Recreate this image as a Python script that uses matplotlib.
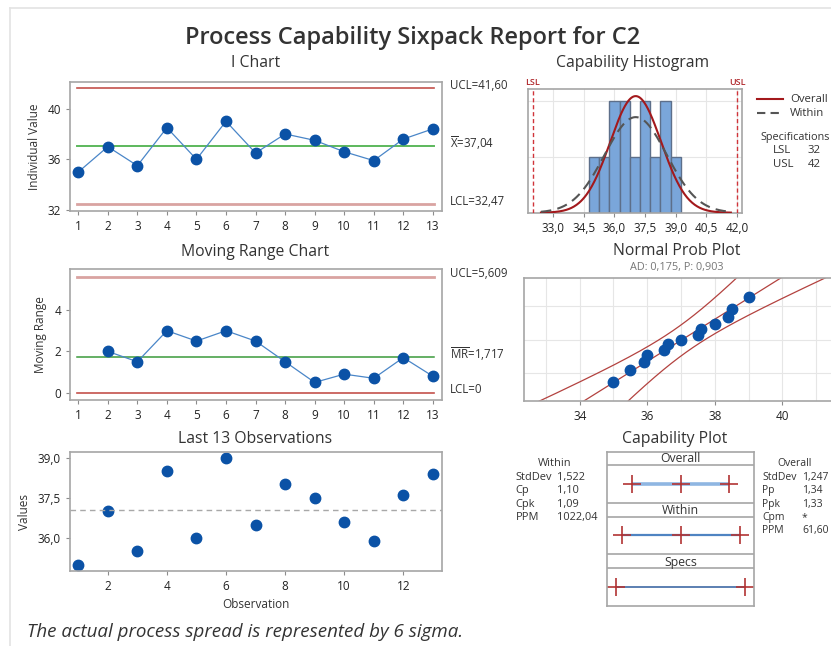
import math
import numpy as np
import matplotlib
matplotlib.use("Agg")
import matplotlib.pyplot as plt
from matplotlib.lines import Line2D
from matplotlib.ticker import FuncFormatter
import matplotlib.transforms as mtransforms

# ---------------- data ----------------
observations = list(range(1, 14))
values = [35.0, 37.0, 35.5, 38.5, 36.0, 39.0, 36.5, 38.0, 37.5, 36.6, 35.9, 37.6, 38.4]
LSL, USL = 32, 42
hist_edges = [34.75, 35.25, 35.75, 36.25, 36.75, 37.25, 37.75, 38.25, 38.75, 39.25]
hist_xticks = [33.0, 34.5, 36.0, 37.5, 39.0, 40.5, 42.0]
prob_xticks = [34, 36, 38, 40]
within_labels = ["StdDev", "Cp", "Cpk", "PPM"]
within_values = ["1,522", "1,10", "1,09", "1022,04"]
overall_labels = ["StdDev", "Pp", "Ppk", "Cpm", "PPM"]
overall_values = ["1,247", "1,34", "1,33", "*", "61,60"]
ad_text = "AD: 0,175, P: 0,903"

# ---------------- derived ----------------
vals = np.array(values)
n = len(vals)
mean = vals.mean()
mr = np.abs(np.diff(vals))
mrbar = mr.mean()
d2, d3 = 1.128, 0.8525
sig_w = mrbar / d2
sig_o = vals.std(ddof=1)
ucl_i, lcl_i = mean + 3 * sig_w, mean - 3 * sig_w
ucl_mr = (1 + 3 * d3 / d2) * mrbar


def comma(v, d):
    return f"{v:.{d}f}".replace(".", ",")


def norm_ppf(p):
    lo, hi = -10.0, 10.0
    for _ in range(80):
        mid = 0.5 * (lo + hi)
        if 0.5 * (1 + math.erf(mid / math.sqrt(2))) < p:
            lo = mid
        else:
            hi = mid
    return 0.5 * (lo + hi)


def npdf(x, m, s):
    return np.exp(-0.5 * ((x - m) / s) ** 2) / (s * math.sqrt(2 * math.pi))


# ---------------- style ----------------
FONT = "Open Sans"
plt.rcParams["font.family"] = [FONT, "DejaVu Sans"]
plt.rcParams["mathtext.fontset"] = "custom"
plt.rcParams["mathtext.rm"] = FONT
plt.rcParams["mathtext.it"] = FONT + ":italic"
plt.rcParams["mathtext.bf"] = FONT + ":bold"
plt.rcParams["axes.edgecolor"] = "#a6a6a6"
plt.rcParams["axes.linewidth"] = 1.2
plt.rcParams["xtick.color"] = "#8c8c8c"
plt.rcParams["ytick.color"] = "#8c8c8c"
plt.rcParams["xtick.labelcolor"] = "#222222"
plt.rcParams["ytick.labelcolor"] = "#222222"
plt.rcParams["xtick.labelsize"] = 8.5
plt.rcParams["ytick.labelsize"] = 8.5
plt.rcParams["xtick.major.size"] = 3
plt.rcParams["ytick.major.size"] = 3

TXT = "#333333"
BLUE = "#0b52a6"
LINEBLUE = "#4a86c8"
RED = "#c3524c"
PINK = "#d9a3a1"
GREEN = "#5cb85c"
DGREEN = "#3a9a3a"

W, H = 831, 646
fig = plt.figure(figsize=(W / 100, H / 100), dpi=100)


def rect(l, t, r, b):
    return [l / W, 1 - b / H, (r - l) / W, (b - t) / H]


def ftext(x, y, s, **kw):
    kw.setdefault("ha", "center")
    kw.setdefault("va", "center")
    kw.setdefault("color", TXT)
    return fig.text(x / W, 1 - y / H, s, **kw)


# page frame
fig.add_artist(Line2D([10 / W, 1], [1 - 8 / H, 1 - 8 / H], color="#e3e3e3", lw=1.2))
fig.add_artist(Line2D([10 / W, 10 / W], [0, 1 - 8 / H], color="#e3e3e3", lw=1.2))

ftext(413, 38, "Process Capability Sixpack Report for C2", fontsize=17, fontweight="semibold")
ftext(27, 632, "The actual process spread is represented by 6 sigma.", ha="left",
      fontsize=13.5, style="italic")

TSZ = 11.3
LSZ = 8.5
SSZ = 7.9
OSZ = 7.5

# ---------------- I chart ----------------
ax1 = fig.add_axes(rect(70, 81.7, 441.7, 211))
ax1.plot(observations, values, color=LINEBLUE, lw=0.9, marker="o", ms=7.5,
         mfc=BLUE, mec=BLUE, zorder=3)
ax1.axhline(ucl_i, xmin=0.02, xmax=0.98, color=RED, lw=1.2)
ax1.axhline(lcl_i, xmin=0.02, xmax=0.98, color=PINK, lw=2)
ax1.axhline(mean, xmin=0.02, xmax=0.98, color=GREEN, lw=1.4)
ax1.set_xlim(0.72, 13.3)
ax1.set_ylim(31.93, 42.12)
ax1.set_xticks(observations)
ax1.set_yticks([32, 36, 40])
ax1.set_ylabel("Individual Value", fontsize=LSZ, color=TXT, labelpad=5)
ftext(255.5, 63, "I Chart", fontsize=TSZ)
tr1 = mtransforms.blended_transform_factory(ax1.transAxes, ax1.transData)
for yv, s in [(ucl_i, "UCL=" + comma(ucl_i, 2)),
              (mean, r"$\overline{\mathrm{X}}$=" + comma(mean, 2)),
              (lcl_i, "LCL=" + comma(lcl_i, 2))]:
    ax1.annotate(s, xy=(1, yv), xycoords=tr1, xytext=(6, 2), textcoords="offset points",
                 ha="left", va="center", fontsize=8.3, color=TXT, annotation_clip=False)

# ---------------- Moving range ----------------
ax2 = fig.add_axes(rect(70, 269.3, 441.7, 400))
ax2.plot(observations[1:], mr, color=LINEBLUE, lw=0.9, marker="o", ms=7.5,
         mfc=BLUE, mec=BLUE, zorder=3)
ax2.axhline(ucl_mr, xmin=0.02, xmax=0.98, color=PINK, lw=2)
ax2.axhline(0, xmin=0.02, xmax=0.98, color=RED, lw=1.2)
ax2.axhline(mrbar, xmin=0.02, xmax=0.98, color=DGREEN, lw=1.1)
ax2.set_xlim(0.72, 13.3)
ax2.set_ylim(-0.35, 5.97)
ax2.set_xticks(observations)
ax2.set_yticks([0, 2, 4])
ax2.set_ylabel("Moving Range", fontsize=LSZ, color=TXT, labelpad=5)
ftext(255.5, 251.7, "Moving Range Chart", fontsize=TSZ)
tr2 = mtransforms.blended_transform_factory(ax2.transAxes, ax2.transData)
for yv, s in [(ucl_mr, "UCL=" + comma(ucl_mr, 3)),
              (mrbar, r"$\overline{\mathrm{MR}}$=" + comma(mrbar, 3)),
              (0, "LCL=0")]:
    ax2.annotate(s, xy=(1, yv), xycoords=tr2, xytext=(6, 2), textcoords="offset points",
                 ha="left", va="center", fontsize=8.3, color=TXT, annotation_clip=False)

# ---------------- Last 13 observations ----------------
ax3 = fig.add_axes(rect(70, 452.3, 441.7, 570.7))
ax3.plot(observations, values, ls="none", marker="o", ms=7.5, mfc=BLUE, mec=BLUE)
ax3.axhline(mean, color="#a8a8a8", lw=1, ls=(0, (4, 3)))
ax3.set_xlim(0.72, 13.3)
ax3.set_ylim(34.78, 39.2)
ax3.set_xticks([2, 4, 6, 8, 10, 12])
ax3.set_yticks([36.0, 37.5, 39.0])
ax3.yaxis.set_major_formatter(FuncFormatter(lambda v, p: comma(v, 1)))
ax3.set_ylabel("Values", fontsize=LSZ, color=TXT, labelpad=5)
ax3.set_xlabel("Observation", fontsize=LSZ, color=TXT, labelpad=4)
ftext(255.5, 439.3, "Last 13 Observations", fontsize=TSZ)

# ---------------- Capability histogram ----------------
ax4 = fig.add_axes(rect(527.7, 89.3, 741.7, 212.7))
ax4.hist(values, bins=hist_edges, color="#7aa6da", edgecolor="#5d6f8a", lw=1, zorder=2)
xs = np.linspace(32.4, 41.7, 300)
bw = hist_edges[1] - hist_edges[0]
ax4.plot(xs, npdf(xs, mean, sig_o) * n * bw, color="#a3191c", lw=1.5, zorder=3)
ax4.plot(xs, npdf(xs, mean, sig_w) * n * bw, color="#555555", lw=1.5, ls=(0, (5, 3)), zorder=3)
ax4.axvline(LSL, color="#d0343a", lw=1, ls=(0, (3, 2)), zorder=3)
ax4.axvline(USL, color="#d0343a", lw=1, ls=(0, (3, 2)), zorder=3)
ax4.set_xlim(31.75, 42.23)
ax4.set_ylim(0, 2.2)
ax4.set_xticks(hist_xticks)
ax4.xaxis.set_major_formatter(FuncFormatter(lambda v, p: comma(v, 1)))
ax4.set_yticks([1, 2])
ax4.tick_params(axis="y", length=0, labelleft=False)
ax4.grid(True, color="#e6e6e6", lw=0.8, zorder=0)
ax4.set_axisbelow(True)
ftext(633, 63, "Capability Histogram", fontsize=TSZ)
tr4 = mtransforms.blended_transform_factory(ax4.transData, ax4.transAxes)
ax4.text(LSL, 1.02, "LSL", transform=tr4, ha="center", va="bottom", fontsize=6.5,
         color="#b0282c", fontweight="semibold")
ax4.text(USL, 1.02, "USL", transform=tr4, ha="center", va="bottom", fontsize=6.5,
         color="#b0282c", fontweight="semibold")

# legend / specs
fig.add_artist(Line2D([757 / W, 783 / W], [1 - 99.3 / H] * 2, color="#a3191c", lw=1.5))
fig.add_artist(Line2D([757 / W, 783 / W], [1 - 113.3 / H] * 2, color="#555555", lw=1.5,
                      ls=(0, (4, 2.5))))
ftext(790, 99.3, "Overall", ha="left", fontsize=8.2)
ftext(790, 113.3, "Within", ha="left", fontsize=8.2)
ftext(795, 137.3, "Specifications", fontsize=7.8)
ftext(772.5, 150.7, "LSL", ha="left", fontsize=8.2)
ftext(808, 150.7, str(LSL), ha="left", fontsize=8.2)
ftext(772.5, 164, "USL", ha="left", fontsize=8.2)
ftext(808, 164, str(USL), ha="left", fontsize=8.2)

# ---------------- Normal probability plot ----------------
ax5 = fig.add_axes(rect(524, 278.3, 860, 400.7))
sv = np.sort(vals)
zs = np.array([norm_ppf((i - 0.3) / (n + 0.4)) for i in range(1, n + 1)])
zlo, zhi = norm_ppf(0.01), norm_ppf(0.99)
zg = np.linspace(zlo - 0.3, zhi + 0.3, 200)
fitx = mean + sig_o * zg
half = 1.96 * np.sqrt(sig_o ** 2 / n + zg ** 2 * sig_o ** 2 / (2 * n))
lc = "#b3423f"
ax5.plot(fitx, zg, color=lc, lw=0.9)
ax5.plot(fitx - half, zg, color=lc, lw=0.9)
ax5.plot(fitx + half, zg, color=lc, lw=0.9)
ax5.plot(sv, zs, ls="none", marker="o", ms=7.5, mfc=BLUE, mec=BLUE, zorder=4)
ax5.set_xlim(32.35, 42.3)
ax5.set_ylim(zlo, zhi)
ax5.set_xticks(prob_xticks)
ax5.set_xticks(list(range(33, 43)), minor=True)
ax5.set_yticks([norm_ppf(0.1), 0, norm_ppf(0.9)])
ax5.tick_params(axis="y", length=0, labelleft=False)
ax5.tick_params(axis="x", which="minor", length=0)
ax5.grid(True, which="both", color="#e6e6e6", lw=0.8)
ax5.set_axisbelow(True)
ax5.spines["right"].set_visible(False)
ftext(676.7, 250.7, "Normal Prob Plot", fontsize=TSZ)
ftext(676.7, 267.3, ad_text, fontsize=7.8, color="#777777")

# ---------------- Capability plot ----------------
ax6 = fig.add_axes(rect(607.3, 451.7, 754, 606))
ax6.set_xlim(31.35, 42.7)
ax6.set_ylim(154.3, 0)
ax6.set_xticks([])
ax6.set_yticks([])
for yy in [13.3, 51, 65, 102.6, 116.6]:
    ax6.axhline(yy, color="#a6a6a6", lw=1.2)
rows = [
    ("Overall", 7.0, 32.3, [mean - 3 * sig_o, mean, mean + 3 * sig_o], "#8fb6e2", 2.6),
    ("Within", 58.5, 83.6, [mean - 3 * sig_w, mean, mean + 3 * sig_w], "#4f84c2", 1.6),
    ("Specs", 110.5, 135.6, [LSL, USL], "#2f5d9c", 1.1),
]
for name, ty, ly, pts, col, lw in rows:
    ax6.text(0.5 * (31.35 + 42.7), ty, name, ha="center", va="center", fontsize=8.8, color=TXT)
    ax6.plot([pts[0], pts[-1]], [ly, ly], color=col, lw=lw, solid_capstyle="butt")
    ax6.plot(pts, [ly] * len(pts), ls="none", marker="+", ms=13, mew=1.2, color="#b23434")
ftext(675, 439.3, "Capability Plot", fontsize=TSZ)

ftext(555, 463.3, "Within", fontsize=SSZ)
for i, (lab, v) in enumerate(zip(within_labels, within_values)):
    y = 477.3 + i * 13.4
    ftext(515.7, y, lab, ha="left", fontsize=SSZ)
    ftext(557.3, y, v, ha="left", fontsize=SSZ)
ftext(795, 463.3, "Overall", fontsize=OSZ)
for i, (lab, v) in enumerate(zip(overall_labels, overall_values)):
    y = 477.3 + i * 13.4
    ftext(762, y, lab, ha="left", fontsize=OSZ)
    ftext(802, y, v, ha="left", fontsize=OSZ)

fig.savefig("out.png", dpi=100)
